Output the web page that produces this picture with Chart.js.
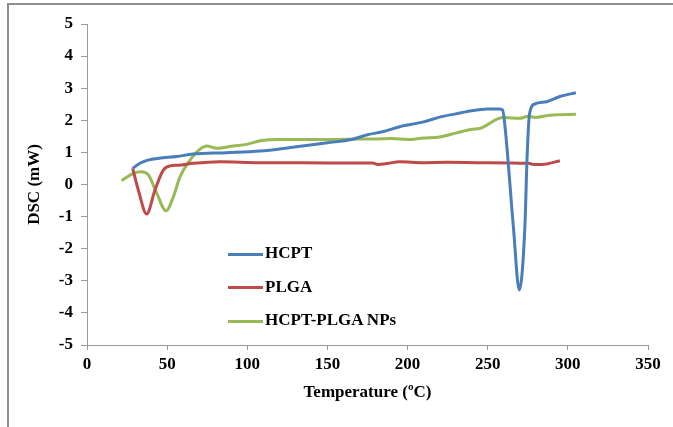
<!DOCTYPE html>
<html>
<head>
<meta charset="utf-8">
<script src="https://cdn.jsdelivr.net/npm/chart.js@4.4.0/dist/chart.umd.min.js"></script>
<style>
  body { margin: 0; background: #fff; }
  #wrap { position: relative; width: 673px; height: 427px; }
  #frame { position: absolute; left: 7px; top: 3px; right: -5px; bottom: -5px;
    border-left: 2px solid #8e8e8e; border-top: 2px solid #8e8e8e; }
  canvas { position: absolute; left: 0; top: 0; }
  #legend { position: absolute; left: 228px; top: 240px; font: bold 17px "Liberation Serif", serif; }
  .item { position: absolute; left: 0; white-space: nowrap; height: 26px; line-height: 26px; }
  .item span.sw { display: inline-block; width: 35px; height: 3px; vertical-align: middle; margin-right: 2px; }
</style>
</head>
<body>
<div id="wrap">
  <div id="frame"></div>
  <canvas id="chart" width="673" height="427"></canvas>
  <div id="legend"></div>
</div>
<script>
// HCPT
const hcptTemp = [28.5, 33, 38, 45, 56, 66, 87, 108, 127, 150, 165, 175, 185, 195, 210, 220, 230, 240, 250, 257, 259.3, 260.8, 266, 269.7, 273.2, 274.5, 276, 279.5, 286.8, 295, 305];
const hcptDsc  = [0.50, 0.66, 0.76, 0.82, 0.87, 0.95, 0.99, 1.04, 1.15, 1.30, 1.40, 1.55, 1.65, 1.80, 1.95, 2.10, 2.20, 2.30, 2.35, 2.35, 2.32, 1.80, -1.31, -3.29, -1.31, 0.76, 2.17, 2.51, 2.58, 2.74, 2.86];
// PLGA
const plgaTemp = [28.5, 32, 37.2, 42.4, 47.6, 51.8, 57, 66.3, 83, 108, 120, 150, 170, 178, 182, 188, 195, 210, 225, 245, 275.3, 279.5, 286.8, 295];
const plgaDsc  = [0.50, -0.17, -0.92, -0.17, 0.45, 0.58, 0.60, 0.66, 0.71, 0.68, 0.68, 0.67, 0.67, 0.67, 0.62, 0.66, 0.71, 0.68, 0.69, 0.68, 0.66, 0.62, 0.64, 0.74];
// HCPT-PLGA NPs
const npTemp = [21.6, 28.9, 34.1, 38.3, 43.5, 49.3, 53.9, 58, 64.3, 70.5, 74.7, 80.9, 91.3, 99.6, 108, 120, 150, 170, 180, 190, 200, 210, 220, 230, 240, 245.2, 259.7, 270, 275.3, 279.5, 288.8, 305];
const npDsc  = [0.12, 0.35, 0.40, 0.30, -0.27, -0.82, -0.38, 0.24, 0.76, 1.10, 1.20, 1.13, 1.20, 1.25, 1.36, 1.40, 1.40, 1.42, 1.42, 1.43, 1.40, 1.45, 1.48, 1.60, 1.72, 1.75, 2.09, 2.06, 2.13, 2.09, 2.16, 2.19];

const xTicks = [0, 50, 100, 150, 200, 250, 300, 350];
const yTicks = [-5, -4, -3, -2, -1, 0, 1, 2, 3, 4, 5];

const series = [
  { label: "HCPT", temp: hcptTemp, dsc: hcptDsc, color: "#4a7ebb" },
  { label: "PLGA", temp: plgaTemp, dsc: plgaDsc, color: "#be4b48" },
  { label: "HCPT-PLGA NPs", temp: npTemp, dsc: npDsc, color: "#98b954" },
];

const font = { family: "'Liberation Serif', 'Times New Roman', serif", weight: "bold", size: 17 };

const ctx = document.getElementById("chart").getContext("2d");
new Chart(ctx, {
  type: "line",
  data: {
    datasets: series.map((s) => ({
      label: s.label,
      data: s.temp.map((t, i) => ({ x: t, y: s.dsc[i] })),
      borderColor: s.color,
      backgroundColor: s.color,
      borderWidth: 3,
      pointRadius: 0,
      fill: false,
      cubicInterpolationMode: "monotone",
    })),
  },
  options: {
    responsive: false,
    animation: false,
    layout: { padding: { left: 24, right: 25, top: 24, bottom: 20 } },
    scales: {
      x: {
        type: "linear",
        min: 0,
        max: 350,
        afterBuildTicks: (axis) => { axis.ticks = xTicks.map((v) => ({ value: v })); },
        afterFit: (axis) => { axis.height = 62; },
        grid: { drawOnChartArea: false, color: "#9a9a9a", tickLength: 5 },
        border: { color: "#9a9a9a", width: 1 },
        ticks: { font, color: "#000", padding: 4 },
        title: { display: true, text: "Temperature (ºC)", font, color: "#000", padding: { top: 4 } },
      },
      y: {
        min: -5,
        max: 5,
        afterBuildTicks: (axis) => { axis.ticks = yTicks.map((v) => ({ value: v })); },
        afterFit: (axis) => { axis.width = 63; },
        grid: { drawOnChartArea: false, color: "#9a9a9a", tickLength: 6 },
        border: { color: "#9a9a9a", width: 1 },
        ticks: { font, color: "#000", padding: 8 },
        title: { display: true, text: "DSC (mW)", font, color: "#000", padding: { top: 0, bottom: 4 } },
      },
    },
    plugins: {
      legend: { display: false },
      tooltip: { enabled: false },
    },
  },
});

// legend drawn as html, from the series list
const legend = document.getElementById("legend");
series.forEach((s, i) => {
  const div = document.createElement("div");
  div.className = "item";
  div.style.top = i * 33.5 + "px";
  div.innerHTML = '<span class="sw" style="background:' + s.color + '"></span>' + s.label;
  legend.appendChild(div);
});
</script>
</body>
</html>
